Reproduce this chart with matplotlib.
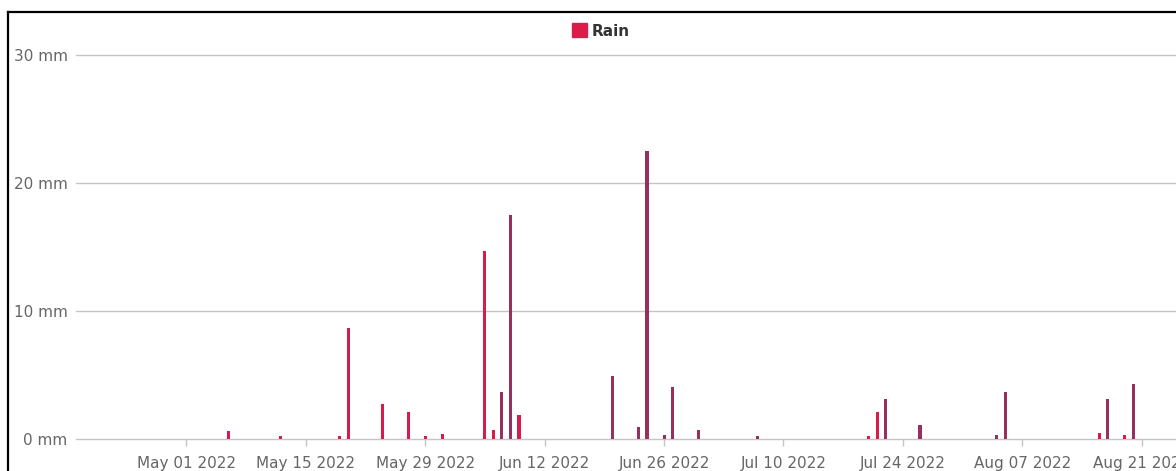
import matplotlib
matplotlib.use('Agg')
import matplotlib.pyplot as plt
from matplotlib.lines import Line2D
from matplotlib.patches import Patch
import pandas as pd

# daily rain (mm)
rain_dates = ['2022-05-06', '2022-05-12', '2022-05-19', '2022-05-20', '2022-05-24',
              '2022-05-27', '2022-05-29', '2022-05-31', '2022-06-05', '2022-06-06',
              '2022-06-07', '2022-06-08', '2022-06-09', '2022-06-20', '2022-06-23',
              '2022-06-24', '2022-06-26', '2022-06-27', '2022-06-30', '2022-07-07',
              '2022-07-20', '2022-07-21', '2022-07-22', '2022-07-26', '2022-08-04',
              '2022-08-05', '2022-08-16', '2022-08-17', '2022-08-19', '2022-08-20']
rain_mm = [0.6, 0.2, 0.2, 8.7, 2.7,
           2.1, 0.2, 0.4, 14.7, 0.7,
           3.7, 17.5, 1.9, 4.9, 0.9,
           22.5, 0.3, 4.1, 0.7, 0.2,
           0.2, 2.1, 3.1, 1.1, 0.3,
           3.7, 0.5, 3.1, 0.3, 4.3]
tick_dates = ['2022-05-01', '2022-05-15', '2022-05-29', '2022-06-12', '2022-06-26',
              '2022-07-10', '2022-07-24', '2022-08-07', '2022-08-21']
y_ticks = [0, 10, 20, 30]

# bars that show up in the darker shade in the screenshot
dark_dates = ['2022-06-07', '2022-06-08', '2022-06-20', '2022-06-23', '2022-06-24',
              '2022-06-26', '2022-06-27', '2022-06-30', '2022-07-07', '2022-07-22',
              '2022-07-26', '2022-08-04', '2022-08-05', '2022-08-17', '2022-08-20']

df = pd.DataFrame({'date': pd.to_datetime(rain_dates), 'rain': rain_mm})
ticks = pd.to_datetime(tick_dates)
dark = set(pd.to_datetime(dark_dates))
colors = ['#97305c' if d in dark else '#d81b4a' for d in df['date']]

W, H = 1176, 471
fig = plt.figure(figsize=(W / 100, H / 100), dpi=100)
ax = fig.add_axes([76 / W, 32 / H, 1 - 76 / W, (439 - 55) / H])

ax.bar(df['date'], df['rain'], width=0.36, color=colors, zorder=3)

ax.set_ylim(0, 30)
ax.set_xlim(pd.Timestamp('2022-04-18 02:00'), pd.Timestamp('2022-08-25'))

ax.set_yticks(y_ticks)
ax.set_yticklabels([f'{v} mm' for v in y_ticks])
ax.yaxis.grid(True, color='#c4c4c4', linewidth=1, zorder=0)
for gl in ax.get_ygridlines():
    gl.set_clip_on(False)
ax.tick_params(axis='y', length=0, pad=6, labelsize=11, labelcolor='#666666')

ax.set_xticks(ticks)
ax.set_xticklabels([d.strftime('%b %d %Y') for d in ticks])
ax.tick_params(axis='x', length=5, width=1, color='#c4c4c4', pad=7,
               labelsize=11, labelcolor='#666666')

for s in ax.spines.values():
    s.set_visible(False)

legend = fig.legend(handles=[Patch(color='#dc1b4b', label='Rain')],
                    loc='center', bbox_to_anchor=(601 / W, 1 - 31 / H),
                    frameon=False, handlelength=1.0, handleheight=1.0,
                    handletextpad=0.3, prop={'weight': 'bold', 'size': 11})
for t in legend.get_texts():
    t.set_color('#333333')

# black frame of the screenshot (top and left edges)
fig.add_artist(Line2D([8 / W, 1], [1 - 12 / H, 1 - 12 / H], color='black', lw=1.6))
fig.add_artist(Line2D([8 / W, 8 / W], [0, 1 - 12 / H], color='black', lw=1.6))

fig.savefig('out.png', dpi=100)
